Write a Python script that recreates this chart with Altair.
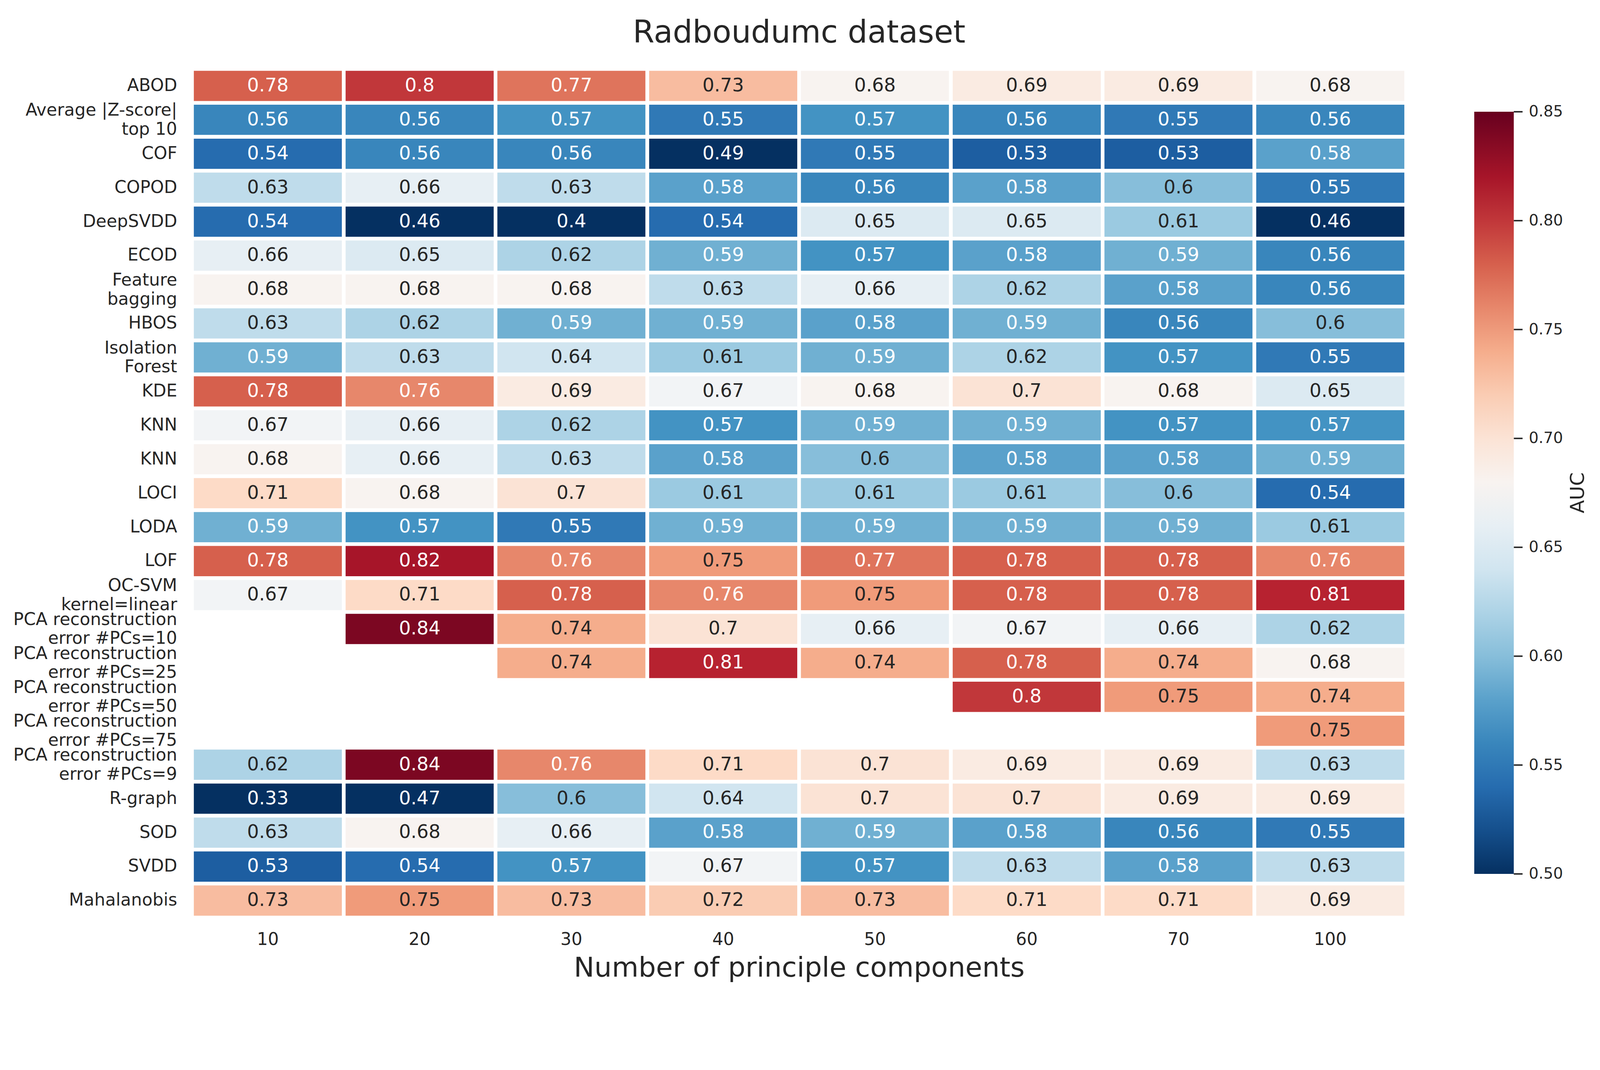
import altair as alt
import pandas as pd

chart_title = "Radboudumc dataset"
x_title = "Number of principle components"
legend_title = "AUC"

components = [10, 20, 30, 40, 50, 60, 70, 100]

methods = [
    "ABOD",
    "Average |Z-score|\u00a0\ntop 10",
    "COF",
    "COPOD",
    "DeepSVDD",
    "ECOD",
    "Feature\u00a0\nbagging",
    "HBOS",
    "Isolation\u00a0\nForest",
    "KDE",
    "KNN",
    "KNN",
    "LOCI",
    "LODA",
    "LOF",
    "OC-SVM\u00a0\nkernel=linear",
    "PCA reconstruction\u00a0\nerror #PCs=10",
    "PCA reconstruction\u00a0\nerror #PCs=25",
    "PCA reconstruction\u00a0\nerror #PCs=50",
    "PCA reconstruction\u00a0\nerror #PCs=75",
    "PCA reconstruction\u00a0\nerror #PCs=9",
    "R-graph",
    "SOD",
    "SVDD",
    "Mahalanobis",
]

auc_abod = [0.78, 0.8, 0.77, 0.73, 0.68, 0.69, 0.69, 0.68]
auc_avg_z = [0.56, 0.56, 0.57, 0.55, 0.57, 0.56, 0.55, 0.56]
auc_cof = [0.54, 0.56, 0.56, 0.49, 0.55, 0.53, 0.53, 0.58]
auc_copod = [0.63, 0.66, 0.63, 0.58, 0.56, 0.58, 0.6, 0.55]
auc_deepsvdd = [0.54, 0.46, 0.4, 0.54, 0.65, 0.65, 0.61, 0.46]
auc_ecod = [0.66, 0.65, 0.62, 0.59, 0.57, 0.58, 0.59, 0.56]
auc_fbag = [0.68, 0.68, 0.68, 0.63, 0.66, 0.62, 0.58, 0.56]
auc_hbos = [0.63, 0.62, 0.59, 0.59, 0.58, 0.59, 0.56, 0.6]
auc_iforest = [0.59, 0.63, 0.64, 0.61, 0.59, 0.62, 0.57, 0.55]
auc_kde = [0.78, 0.76, 0.69, 0.67, 0.68, 0.7, 0.68, 0.65]
auc_knn_a = [0.67, 0.66, 0.62, 0.57, 0.59, 0.59, 0.57, 0.57]
auc_knn_b = [0.68, 0.66, 0.63, 0.58, 0.6, 0.58, 0.58, 0.59]
auc_loci = [0.71, 0.68, 0.7, 0.61, 0.61, 0.61, 0.6, 0.54]
auc_loda = [0.59, 0.57, 0.55, 0.59, 0.59, 0.59, 0.59, 0.61]
auc_lof = [0.78, 0.82, 0.76, 0.75, 0.77, 0.78, 0.78, 0.76]
auc_ocsvm = [0.67, 0.71, 0.78, 0.76, 0.75, 0.78, 0.78, 0.81]
auc_pca10 = [None, 0.84, 0.74, 0.7, 0.66, 0.67, 0.66, 0.62]
auc_pca25 = [None, None, 0.74, 0.81, 0.74, 0.78, 0.74, 0.68]
auc_pca50 = [None, None, None, None, None, 0.8, 0.75, 0.74]
auc_pca75 = [None, None, None, None, None, None, None, 0.75]
auc_pca9 = [0.62, 0.84, 0.76, 0.71, 0.7, 0.69, 0.69, 0.63]
auc_rgraph = [0.33, 0.47, 0.6, 0.64, 0.7, 0.7, 0.69, 0.69]
auc_sod = [0.63, 0.68, 0.66, 0.58, 0.59, 0.58, 0.56, 0.55]
auc_svdd = [0.53, 0.54, 0.57, 0.67, 0.57, 0.63, 0.58, 0.63]
auc_mahal = [0.73, 0.75, 0.73, 0.72, 0.73, 0.71, 0.71, 0.69]

auc_rows = [
    auc_abod, auc_avg_z, auc_cof, auc_copod, auc_deepsvdd, auc_ecod, auc_fbag,
    auc_hbos, auc_iforest, auc_kde, auc_knn_a, auc_knn_b, auc_loci, auc_loda,
    auc_lof, auc_ocsvm, auc_pca10, auc_pca25, auc_pca50, auc_pca75, auc_pca9,
    auc_rgraph, auc_sod, auc_svdd, auc_mahal,
]

# RdBu_r colormap stops (matplotlib), vmin=0.5, vmax=0.85
cmap_domain = [0.5, 0.535, 0.57, 0.605, 0.64, 0.675, 0.71, 0.745, 0.78, 0.815, 0.85]
cmap_colors = ["#053061", "#2166ac", "#4393c3", "#92c5de", "#d1e5f0", "#f7f7f7",
               "#fddbc7", "#f4a582", "#d6604d", "#b2182b", "#67001f"]
legend_ticks = [0.5, 0.55, 0.6, 0.65, 0.7, 0.75, 0.8, 0.85]

keys = [f"{i:02d}{m}" for i, m in enumerate(methods)]
records = []
for key, row in zip(keys, auc_rows):
    for pc, v in zip(components, row):
        if v is not None:
            records.append({"key": key, "pc": pc, "auc": v})
df = pd.DataFrame(records)

FONT = "DejaVu Sans"
TXT = "#262626"
W, H = 3317, 2318
# colorbar geometry (relative to plot origin)
CB_X, CB_TOP, CB_LEN, CB_THICK = 3503, 117, 2082, 108
# scale for the colorbar ticks: 0.85 at CB_TOP and 0.5 at CB_TOP+CB_LEN
px_per_unit = CB_LEN / (legend_ticks[-1] - legend_ticks[0])
tick_domain = [legend_ticks[0] - (H - CB_TOP - CB_LEN) / px_per_unit,
               legend_ticks[-1] + CB_TOP / px_per_unit]

x_enc = alt.X(
    "pc:O",
    sort=components,
    scale=alt.Scale(paddingInner=0, paddingOuter=0),
    axis=alt.Axis(
        title=x_title, labelAngle=0, labelFontSize=47, labelPadding=38,
        titleFontSize=75, titleFontWeight="normal", titleBaseline="alphabetic",
        titleY=161, domain=False, ticks=False, grid=False,
    ),
)
y_enc = alt.Y(
    "key:N",
    sort=keys,
    scale=alt.Scale(paddingInner=0, paddingOuter=0),
    axis=alt.Axis(
        title=None, labelFontSize=47, labelPadding=41, labelLineHeight=52,
        labelExpr="split(substring(datum.label, 2), '\\n')",
        labelOffset={"condition": {"test": "indexof(datum.label, '\\n') >= 0", "value": -25}, "value": 0},
        labelLimit=1000, domain=False, ticks=False, grid=False,
    ),
)

base = alt.Chart(df)

rects = base.mark_rect(stroke="white", strokeWidth=10).encode(
    x=x_enc,
    y=y_enc,
    color=alt.Color(
        "auc:Q",
        scale=alt.Scale(domain=cmap_domain, range=cmap_colors, interpolate="rgb", clamp=True),
        legend=alt.Legend(
            title=None, orient="none", legendX=CB_X, legendY=CB_TOP,
            direction="vertical", gradientLength=CB_LEN, gradientThickness=CB_THICK,
            gradientStrokeWidth=0, values=legend_ticks, labelExpr="''",
            labelFontSize=1, labelOffset=0, padding=0,
        ),
    ),
)

labels = base.mark_text(fontSize=51, font=FONT, baseline="middle", align="center").encode(
    x=x_enc,
    y=y_enc,
    text=alt.Text("auc:Q", format=".2~g"),
    color=alt.condition("datum.auc < 0.595 || datum.auc > 0.755", alt.value("white"), alt.value(TXT)),
)

heat = alt.layer(rects, labels)

tick_df = pd.DataFrame({"v": legend_ticks})
tick_y = alt.Y("v:Q", scale=alt.Scale(domain=tick_domain, nice=False, zero=False), axis=None)

cb_ticks = alt.Chart(tick_df).mark_rule(color=TXT, strokeWidth=4).encode(
    y=tick_y,
    x=alt.value(CB_X + CB_THICK),
    x2=alt.value(CB_X + CB_THICK + 24),
)
cb_labels = alt.Chart(tick_df).mark_text(
    fontSize=42, font=FONT, align="left", baseline="middle", color=TXT
).encode(
    y=tick_y,
    x=alt.value(CB_X + CB_THICK + 41),
    text=alt.Text("v:Q", format=".2f"),
)
colorbar = alt.layer(cb_ticks, cb_labels)

auc_label = alt.Chart(pd.DataFrame({"t": [legend_title]})).mark_text(
    angle=270, fontSize=53, font=FONT, baseline="alphabetic", align="center", color=TXT
).encode(x=alt.value(3803), y=alt.value(1158), text="t:N")

title_text = alt.Chart(pd.DataFrame({"t": [chart_title]})).mark_text(
    fontSize=85, font=FONT, baseline="alphabetic", align="center", color=TXT
).encode(x=alt.value(W / 2), y=alt.value(-72), text="t:N")

chart = alt.layer(heat, colorbar, auc_label, title_text).resolve_scale(
    y="independent"
).properties(
    width=W,
    height=H,
    padding={"left": 516, "top": 94, "right": 521, "bottom": 143},
    autosize=alt.AutoSizeParams(type="none"),
).configure(
    font=FONT,
).configure_view(
    stroke=None,
).configure_axis(
    labelColor=TXT, titleColor=TXT, labelFont=FONT, titleFont=FONT,
).configure_legend(
    gradientVerticalMaxLength=5000,
)

chart.save("out.html", embed_options={"renderer": "svg", "actions": False})
